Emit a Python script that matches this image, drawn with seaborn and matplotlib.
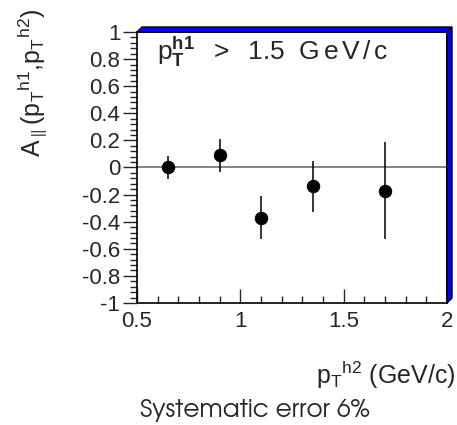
import matplotlib
matplotlib.use("Agg")
import matplotlib.pyplot as plt
import seaborn as sns
import pandas as pd
from matplotlib.patches import Polygon
from matplotlib.ticker import MultipleLocator
from matplotlib import font_manager as fm

pt_h2 = [0.65, 0.90, 1.10, 1.35, 1.70]
a_par = [0.00, 0.09, -0.37, -0.14, -0.17]
a_err = [0.085, 0.12, 0.157, 0.19, 0.355]
x_ticks = [0.5, 1.0, 1.5, 2.0]
x_tick_labels = ["0.5", "1", "1.5", "2"]
y_ticks = [-1, -0.8, -0.6, -0.4, -0.2, 0, 0.2, 0.4, 0.6, 0.8, 1]
y_tick_labels = ["-1", "-0.8", "-0.6", "-0.4", "-0.2", "0", "0.2", "0.4", "0.6", "0.8", "1"]

sns.set_style("ticks")
plt.rcParams["font.family"] = ["Liberation Sans", "DejaVu Sans"]
plt.rcParams["mathtext.fontset"] = "custom"
plt.rcParams["mathtext.rm"] = "Liberation Sans"
plt.rcParams["mathtext.it"] = "Liberation Sans"
plt.rcParams["mathtext.bf"] = "Liberation Sans:bold"

_names = set(f.name for f in fm.fontManager.ttflist)
geo = "DejaVu Sans"
for cand in ["TeX Gyre Adventor", "URW Gothic", "Comfortaa", "Questrial", "Didact Gothic"]:
    if cand in _names:
        geo = cand
        break

df = pd.DataFrame({"x": pt_h2, "y": a_par, "err": a_err})

fig = plt.figure(figsize=(4.57, 4.25), dpi=100)
ax = fig.add_axes([137/457, 1-303/425, 310/457, 271/425])

ax.axhline(0, color="#707070", lw=1.2, zorder=1)
ax.errorbar(df["x"], df["y"], yerr=df["err"], fmt="none", ecolor="black", elinewidth=1.1, zorder=2)
sns.scatterplot(data=df, x="x", y="y", ax=ax, color="black", s=80, edgecolor="black", zorder=3, legend=False)

ax.set_xlim(0.5, 2.0)
ax.set_ylim(-1, 1)
ax.set_xticks(x_ticks)
ax.set_xticklabels(x_tick_labels)
ax.set_yticks(y_ticks)
ax.set_yticklabels(y_tick_labels)
ax.xaxis.set_minor_locator(MultipleLocator(0.1))
ax.yaxis.set_minor_locator(MultipleLocator(0.04))
ax.tick_params(axis="x", which="major", direction="in", length=10, width=1, labelsize=16, pad=6)
ax.tick_params(axis="x", which="minor", direction="in", length=5, width=1)
ax.tick_params(axis="y", which="major", direction="out", length=10, width=1, labelsize=16, pad=2)
ax.tick_params(axis="y", which="minor", direction="out", length=5, width=1)
ax.set_xlabel("")
ax.set_ylabel("")
for s in ax.spines.values():
    s.set_linewidth(1.2)
    s.set_color("black")

# ROOT-style 3D frame border (blue)
dx, dy = 5/310, 5/271
top = Polygon([(0, 1), (dx, 1+dy), (1+dx, 1+dy), (1, 1)], closed=True,
              transform=ax.transAxes, facecolor="#0000ff", edgecolor="black", lw=1, clip_on=False, zorder=5)
right = Polygon([(1, 1), (1+dx, 1+dy), (1+dx, dy), (1, 0)], closed=True,
                transform=ax.transAxes, facecolor="#0000ff", edgecolor="black", lw=1, clip_on=False, zorder=5)
ax.add_patch(top)
ax.add_patch(right)

title = r"$\mathrm{p}_{\mathbf{T}}^{\mathbf{h1}}\ \ >\ \ 1.5\ \ \mathrm{G\,e\,V\,/\,c}$"
tt = ax.text((157-137)/310, (303-60)/271, title, transform=ax.transAxes,
             fontsize=19, ha="left", va="baseline")
fig.canvas.draw()
tw = tt.get_window_extent().width
tt.set_fontsize(19 * 231 / tw)

fig.text(32/457, 1 - 8/425, r"A$_{\parallel}$(p$_{\rm T}$$^{\rm h1}$,p$_{\rm T}$$^{\rm h2}$)",
         rotation=90, ha="center", va="top", fontsize=18)
fig.text(456/457, 1 - 375/425, r"p$_{\rm T}$$^{\rm h2}$ (GeV/c)", ha="right", va="center", fontsize=18)

syst = fig.text(255/457, 1 - 417/425, "Systematic error 6%", ha="center", va="baseline", fontsize=16,
                family=[geo, "DejaVu Sans"])
fig.canvas.draw()
w = syst.get_window_extent().width
syst.set_fontsize(16 * 230 / w)

fig.savefig("out.png", dpi=100)
